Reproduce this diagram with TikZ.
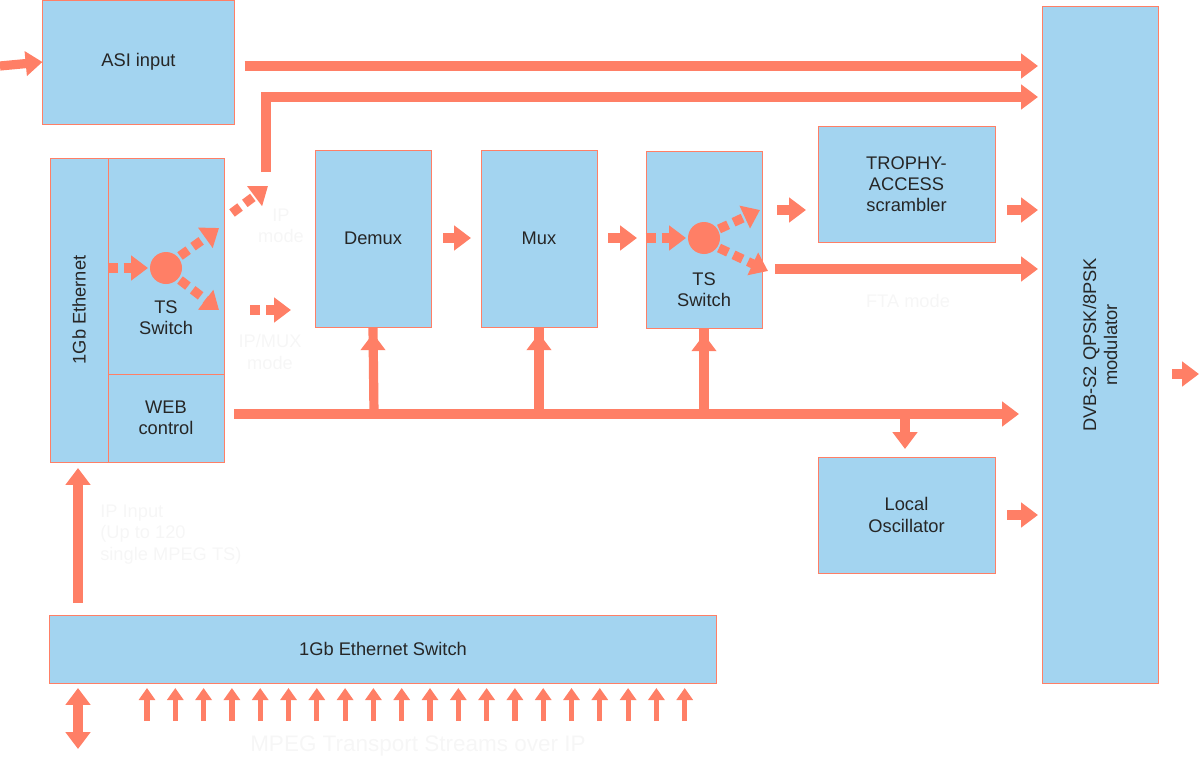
\documentclass[tikz,border=0pt]{standalone}
\usepackage{fontspec}
\setmainfont{Liberation Sans}
\usetikzlibrary{arrows.meta,positioning}
\definecolor{boxblue}{HTML}{A3D4F0}
\definecolor{salmon}{HTML}{FF7F66}
\definecolor{ghost}{HTML}{F6F6F6}
\tikzset{
  blk/.style={draw=salmon,fill=boxblue,line width=0.6pt,inner sep=0pt,align=center,
    font=\fontsize{13}{15}\selectfont,text=black!85},
  flow/.style={draw=salmon,line width=0.23cm,-{Triangle[length=0.42cm,width=0.6cm]}},
  dflow/.style={flow,dash pattern=on 0.25cm off 0.15cm},
  faint/.style={text=ghost,font=\fontsize{13}{15}\selectfont,align=left,inner sep=0pt}
}
\begin{document}
\begin{tikzpicture}[x=0.025cm,y=-0.025cm]
    \useasboundingbox (0,0) rectangle (1200,762);

    % blocs
    \node[blk,minimum width=4.78cm,minimum height=3.1cm] (asi) at (138.5,62) {ASI input};
    \node[blk,minimum width=1.45cm,minimum height=7.6cm] (eth) at (79,310) {};
    \node[rotate=90,font=\fontsize{13}{15}\selectfont,text=black!85] (ethlbl) at (eth) {1Gb Ethernet};
    \node[blk,minimum width=2.9cm,minimum height=5.4cm] (sw1) at (166,266) {};
    \node[blk,minimum width=2.9cm,minimum height=2.2cm] (web) at (166,418) {WEB\\control};
    \node[blk,minimum width=2.9cm,minimum height=4.42cm] (demux) at (373,238.5) {Demux};
    \node[blk,minimum width=2.9cm,minimum height=4.42cm] (mux) at (539,238.5) {Mux};
    \node[blk,minimum width=2.9cm,minimum height=4.42cm] (sw2) at (704,239.5) {};
    \node[blk,minimum width=4.42cm,minimum height=2.88cm] (tro) at (906.5,184.5) {TROPHY-\\ACCESS\\scrambler};
    \node[blk,minimum width=4.42cm,minimum height=2.9cm] (lo) at (906.5,515) {Local\\Oscillator};
    \node[blk,minimum width=2.9cm,minimum height=16.9cm] (mod) at (1100,345) {};
    \node[rotate=90,align=center,font=\fontsize{13}{15}\selectfont,text=black!85] (modlbl) at (mod) {DVB-S2 QPSK/8PSK\\modulator};
    \node[blk,minimum width=16.65cm,minimum height=1.7cm] (ethsw) at (383,649) {1Gb Ethernet Switch};

    % commutateurs TS
    \fill[salmon] (166,268) circle (16) coordinate (c1);
    \node[font=\fontsize{13}{15}\selectfont,text=black!85,align=center] (ts1) at (166,318) {TS\\Switch};
    \fill[salmon] (704,238) circle (16) coordinate (c2);
    \node[font=\fontsize{13}{15}\selectfont,text=black!85,align=center] (ts2) at (704,290) {TS\\Switch};

    % flux
    \draw[flow] (0,66) -- (asi.west);
    \draw[flow] (asi.east) ++(10,4) -- (1038,66);
    \draw[flow] (266,172) -- (266,97) -- (1038,97);
    \draw[dflow] (232,213) -- (268,186);
    \draw[dflow] (sw1.west |- c1) -- (148,268);
    \draw[dflow] (180,256) -- (219,228);
    \draw[dflow] (180,280) -- (219,310);
    \draw[dflow] (250,310) -- (291,310);
    \draw[flow] (443,238) -- (471,238);
    \draw[flow] (608,238) -- (637,238);
    \draw[dflow] (sw2.west |- c2) -- (686,238);
    \draw[dflow] (719,229) -- (760,210);
    \draw[dflow] (719,248) -- (768,271);
    \draw[flow] (777,210) -- (806,210);
    \draw[flow] (775,269) -- (1038,269);
    \draw[flow] (1007,210) -- (1038,210);
    \draw[flow] (1007,515) -- (1038,515);
    \draw[flow] (1172,374) -- (1199,374);

    % bus de controle
    \draw[flow] (234,414) -- (1019,414);
    \foreach \bx/\tgt in {374/demux,539/mux,704/sw2}
        \draw[flow] (\bx,414) -- (\tgt.south) ++(0,6);
    \draw[flow] (905,414) -- (905,449);

    % entrees IP
    \draw[flow] (78,603) -- (78,468);
    \draw[draw=salmon,line width=0.23cm,{Triangle[length=0.42cm,width=0.6cm]}-{Triangle[length=0.42cm,width=0.6cm]}] (78,688) -- (78,749);
    \foreach \i in {0,...,19}
        \draw[draw=salmon,line width=0.13cm,-{Triangle[length=0.3cm,width=0.4cm]}] ({147+28.3*\i},721) -- ({147+28.3*\i},688);

    % textes
    \node[faint,align=center] (ipm) at (281,226) {IP\\mode};
    \node[faint,align=center] (ipmux) at (270,352) {IP/MUX\\mode};
    \node[faint] (fta) at (908,301) {FTA mode};
    \node[faint,anchor=north west] (ipin) at (100,505) {IP Input\\(Up to 120\\single MPEG TS)};
    \node[faint,font=\fontsize{16}{18}\selectfont] (mpeg) at (418,746) {MPEG Transport Streams over IP};
\end{tikzpicture}
\end{document}
